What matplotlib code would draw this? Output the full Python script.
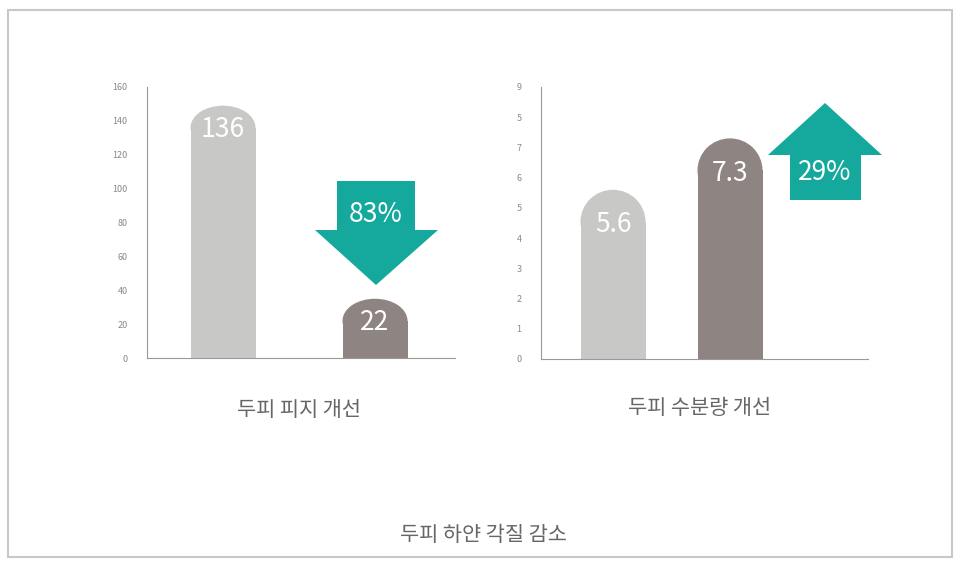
import matplotlib
matplotlib.use("Agg")
import matplotlib.pyplot as plt
from matplotlib.patches import Rectangle, Ellipse, Polygon

plt.rcParams['font.family'] = ['Noto Sans CJK KR', 'DejaVu Sans']

left_values = [136, 22]
left_ticks = [0, 20, 40, 60, 80, 100, 120, 140, 160]
right_values = [5.6, 7.3]
right_ticks = [0, 1, 2, 3, 4, 5, 6, 7, 8, 9]
right_ticklabels = ['0', '1', '2', '3', '4', '5', '6', '7', '5', '9']
left_title = "두피 피지 개선"
right_title = "두피 수분량 개선"
main_title = "두피 하얀 각질 감소"
left_pct = "83%"
right_pct = "29%"
colors = ['#c8c9c7', '#8e8582']
teal = '#14a99c'
W, H = 966, 565
fig = plt.figure(figsize=(W/100, H/100), dpi=100)

bg = fig.add_axes([0, 0, 1, 1])
bg.set_xlim(0, W); bg.set_ylim(H, 0); bg.axis('off')
bg.add_patch(Rectangle((8, 10), 944, 547, fill=False, ec='#c8c8c8', lw=1.5))

def make_ax(x0, x1, y0, y1, ymax, ticks, labels):
    ax = fig.add_axes([x0/W, 1-y0/H, (x1-x0)/W, (y0-y1)/H])
    ax.set_ylim(0, ymax)
    ax.set_xlim(0, 1)
    ax.set_yticks(ticks)
    ax.set_yticklabels(labels)
    ax.tick_params(axis='y', length=0, labelsize=6.5, labelcolor='#888888', pad=14)
    ax.set_xticks([])
    for s in ['top', 'right']:
        ax.spines[s].set_visible(False)
    for s in ['left', 'bottom']:
        ax.spines[s].set_color('#999999')
    ax.patch.set_alpha(0)
    return ax

def rbar(ax, xc, w, val, color, cap_px, include_cap, txt):
    ppd = ax.bbox.height / (ax.get_ylim()[1])
    cap = cap_px / ppd
    top = val - cap if include_cap else val
    ax.add_patch(Rectangle((xc - w/2, 0), w, top, color=color, lw=0))
    ax.add_patch(Ellipse((xc, top), w, 2*cap, color=color, lw=0))
    ax.text(xc, top - cap*0.1, txt, ha='center', va='center', color='white', fontsize=19)

axl = make_ax(147, 455, 358, 87, 160, left_ticks, [str(t) for t in left_ticks])
wl = 65/308
rbar(axl, (223-147)/308, wl, left_values[0], colors[0], 22, False, str(left_values[0]))
rbar(axl, (375-147)/308, wl, left_values[1], colors[1], 22, False, str(left_values[1]))

axr = make_ax(541, 868, 359, 87, 9, right_ticks, right_ticklabels)
wr = 65/327
rbar(axr, (613-541)/327, wr, right_values[0], colors[0], 32, True, str(right_values[0]))
rbar(axr, (730-541)/327, wr, right_values[1], colors[1], 32, True, str(right_values[1]))

# arrows
bg.add_patch(Polygon([(337, 181), (415, 181), (415, 230), (438, 230), (376, 285),
                      (315, 230), (337, 230)], color=teal, lw=0))
bg.text(376, 214, left_pct, ha='center', va='center', color='white', fontsize=19)
bg.add_patch(Polygon([(790, 200), (861, 200), (861, 155), (882, 155), (825, 103),
                      (768, 155), (790, 155)], color=teal, lw=0))
bg.text(825, 172, right_pct, ha='center', va='center', color='white', fontsize=19)

bg.text(299, 410, left_title, ha='center', va='center', color='#666666', fontsize=15)
bg.text(700, 408, right_title, ha='center', va='center', color='#666666', fontsize=15)
bg.text(483, 535, main_title, ha='center', va='center', color='#666666', fontsize=15)

fig.savefig('out.png', dpi=100)
